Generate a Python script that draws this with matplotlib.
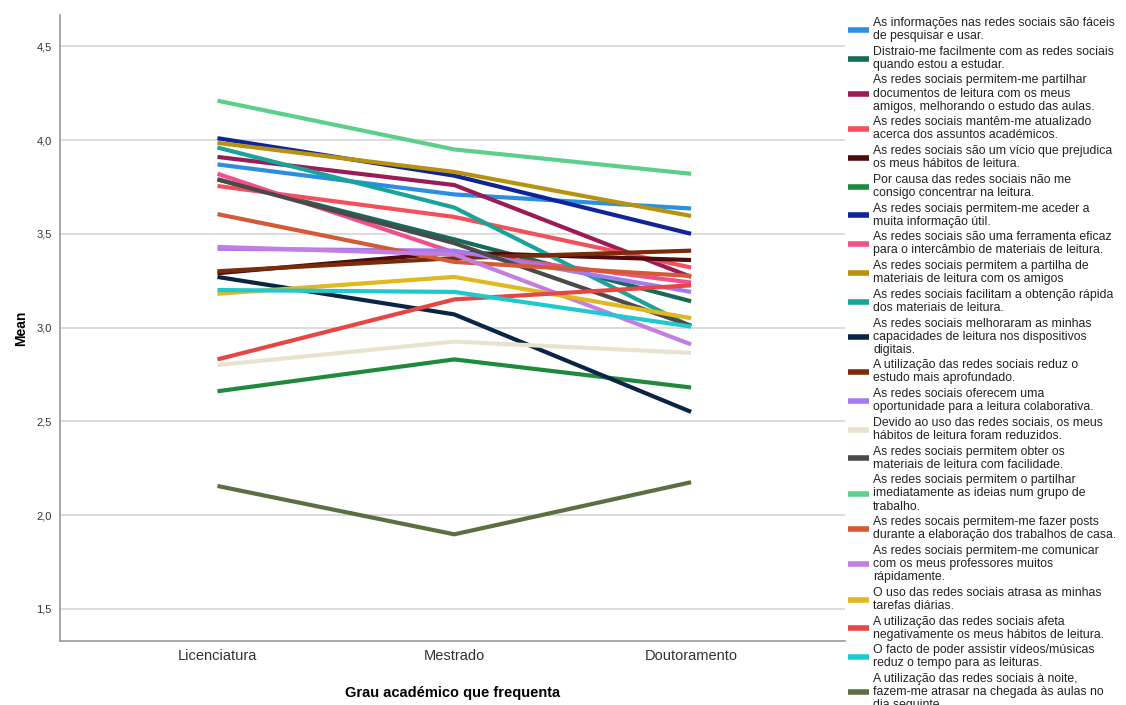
import matplotlib.pyplot as plt
import numpy as np

plt.rcParams['font.family'] = ['Liberation Sans', 'DejaVu Sans']

# graus académicos (eixo x)
categories = ["Licenciatura", "Mestrado", "Doutoramento"]

# itens (legenda), já com quebras de linha como no original
labels = [
    "As informações nas redes sociais são fáceis\nde pesquisar e usar.",
    "Distraio-me facilmente com as redes sociais\nquando estou a estudar.",
    "As redes sociais permitem-me partilhar\ndocumentos de leitura com os meus\namigos, melhorando o estudo das aulas.",
    "As redes sociais mantêm-me atualizado\nacerca dos assuntos académicos.",
    "As redes sociais são um vício que prejudica\nos meus hábitos de leitura.",
    "Por causa das redes sociais não me\nconsigo concentrar na leitura.",
    "As redes sociais permitem-me aceder a\nmuita informação útil.",
    "As redes sociais são uma ferramenta eficaz\npara o intercâmbio de materiais de leitura.",
    "As redes sociais permitem a partilha de\nmateriais de leitura com os amigos",
    "As redes sociais facilitam a obtenção rápida\ndos materiais de leitura.",
    "As redes sociais melhoraram as minhas\ncapacidades de leitura nos dispositivos\ndigitais.",
    "A utilização das redes sociais reduz o\nestudo mais aprofundado.",
    "As redes sociais oferecem uma\noportunidade para a leitura colaborativa.",
    "Devido ao uso das redes sociais, os meus\nhábitos de leitura foram reduzidos.",
    "As redes sociais permitem obter os\nmateriais de leitura com facilidade.",
    "As redes sociais permitem o partilhar\nimediatamente as ideias num grupo de\ntrabalho.",
    "As redes socais permitem-me fazer posts\ndurante a elaboração dos trabalhos de casa.",
    "As redes sociais permitem-me comunicar\ncom os meus professores muitos\nrápidamente.",
    "O uso das redes sociais atrasa as minhas\ntarefas diárias.",
    "A utilização das redes sociais afeta\nnegativamente os meus hábitos de leitura.",
    "O facto de poder assistir vídeos/músicas\nreduz o tempo para as leituras.",
    "A utilização das redes sociais à noite,\nfazem-me atrasar na chegada às aulas no\ndia seguinte.",
]

# médias por grau (Licenciatura, Mestrado, Doutoramento)
means = [
    [3.87, 3.71, 3.635],
    [3.79, 3.47, 3.14],
    [3.91, 3.76, 3.27],
    [3.755, 3.59, 3.32],
    [3.29, 3.40, 3.36],
    [2.66, 2.83, 2.68],
    [4.01, 3.81, 3.50],
    [3.82, 3.40, 3.24],
    [3.985, 3.83, 3.595],
    [3.96, 3.64, 3.005],
    [3.27, 3.07, 2.55],
    [3.30, 3.37, 3.41],
    [3.42, 3.41, 3.19],
    [2.80, 2.925, 2.865],
    [3.79, 3.45, 3.01],
    [4.21, 3.95, 3.82],
    [3.605, 3.35, 3.275],
    [3.43, 3.39, 2.91],
    [3.18, 3.27, 3.05],
    [2.83, 3.15, 3.225],
    [3.20, 3.19, 3.005],
    [2.155, 1.897, 2.175],
]

colors = [
    "#2a8fe0", "#17695a", "#9c1a55", "#f4505c", "#4d0a0f", "#1f8a3b",
    "#10249a", "#f0508a", "#b8910f", "#1aa39a", "#0a2446", "#7a2c0a",
    "#a57af0", "#e8e3d0", "#4a4a4a", "#5ccf8a", "#d35a35", "#c27ee0",
    "#e0b820", "#e84545", "#20c8d0", "#5a7040",
]

fig = plt.figure(figsize=(11.26, 7.05), dpi=100)
ax = fig.add_axes([60 / 1126, 1 - 641 / 705, 785 / 1126, 626 / 705])

x = np.arange(len(categories))
for lab, vals, c in zip(labels, means, colors):
    ax.plot(x, vals, color=c, lw=3, label=lab, solid_capstyle='butt')

ax.set_xlim(-0.665, 2.65)
ax.set_ylim(1.328, 4.667)
ax.set_xticks(x)
ax.set_xticklabels(categories, fontsize=10.5, color="#333333")
yt = [1.5, 2.0, 2.5, 3.0, 3.5, 4.0, 4.5]
ax.set_yticks(yt)
ax.set_yticklabels([f"{v:.1f}".replace(".", ",") for v in yt], fontsize=8, color="#333333")
ax.tick_params(length=0, pad=6)
ax.yaxis.grid(True, color="#d9d9d9", lw=1.3)
ax.set_axisbelow(True)
for s in ["top", "right"]:
    ax.spines[s].set_visible(False)
for s in ["left", "bottom"]:
    ax.spines[s].set_color("#999999")
    ax.spines[s].set_linewidth(1.2)

ax.set_ylabel("Mean", fontsize=10, fontweight="bold", labelpad=6)
ax.set_xlabel("Grau académico que frequenta", fontsize=10.5, fontweight="bold",
              labelpad=16)

leg = fig.legend(loc="upper left", bbox_to_anchor=(848 / 1126, 1 - 17 / 705),
                 frameon=False, fontsize=8.8, handlelength=1.75, handletextpad=0.3,
                 labelspacing=0.3, borderaxespad=0, borderpad=0)
for t in leg.get_texts():
    t.set_linespacing(1.12)
    t.set_color("#222222")
for h in leg.legend_handles:
    h.set_linewidth(4)

fig.savefig("out.png", dpi=100)
